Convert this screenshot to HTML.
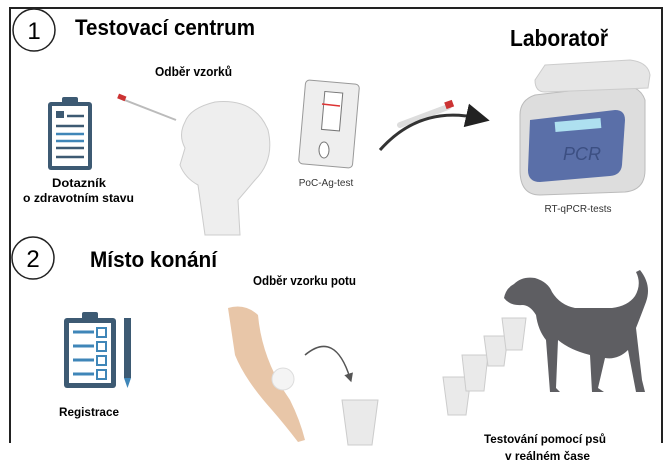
<!DOCTYPE html><html><head><meta charset="utf-8"><style>
body{margin:0;background:#fff;width:670px;height:476px;overflow:hidden}
svg{display:block}
text{font-family:"Liberation Sans",sans-serif}
.b{font-weight:bold}
</style></head><body>
<svg width="670" height="476" viewBox="0 0 670 476">
<defs><marker id="ah" markerWidth="8" markerHeight="8" refX="4" refY="4" orient="auto"><path d="M0,0L8,4L0,8z" fill="#222"/></marker>
<marker id="ah2" markerWidth="6" markerHeight="6" refX="3" refY="3" orient="auto"><path d="M0,0L6,3L0,6z" fill="#555"/></marker></defs>
<path d="M10,443V8H662V443" fill="none" stroke="#222" stroke-width="2"/>
<circle cx="34" cy="30" r="21" fill="#fff" stroke="#222" stroke-width="1.5"/>
<text x="34" y="39" font-size="24" text-anchor="middle">1</text>
<text x="75" y="35" font-size="22" class="b" textLength="180" lengthAdjust="spacingAndGlyphs">Testovací centrum</text>
<text x="510" y="46" font-size="23" class="b" textLength="98" lengthAdjust="spacingAndGlyphs">Laboratoř</text>
<text x="155" y="76" font-size="13" class="b" textLength="77" lengthAdjust="spacingAndGlyphs">Odběr vzorků</text>
<rect x="48" y="102" width="44" height="68" rx="3" fill="#3d5a73"/>
<rect x="52" y="106" width="36" height="60" fill="#fff"/>
<rect x="62" y="97" width="16" height="8" rx="2" fill="#3d5a73"/>
<g stroke="#3d5a73" stroke-width="2.5"><line x1="67" y1="116" x2="84" y2="116"/><line x1="56" y1="126" x2="84" y2="126"/><line x1="56" y1="148" x2="84" y2="148"/><line x1="56" y1="157" x2="84" y2="157"/></g>
<line x1="56" y1="134" x2="84" y2="134" stroke="#3f86b8" stroke-width="2.5"/><line x1="56" y1="141" x2="84" y2="141" stroke="#3f86b8" stroke-width="2.5"/>
<rect x="56" y="111" width="8" height="7" fill="#3d5a73"/>
<text x="52" y="187" font-size="12" class="b" textLength="54" lengthAdjust="spacingAndGlyphs">Dotazník</text>
<text x="23" y="202" font-size="12" class="b" textLength="111" lengthAdjust="spacingAndGlyphs">o zdravotním stavu</text>
<line x1="122" y1="99" x2="176" y2="120" stroke="#bbb" stroke-width="2"/>
<rect x="118" y="95" width="8" height="5" fill="#c33" transform="rotate(22 122 97)"/>
<path d="M185,148 Q178,135 185,122 Q190,108 215,102 Q255,98 268,130 Q275,160 255,180 Q245,192 238,200 L240,235 L205,235 L198,185 Q185,178 180,165 Z" fill="#eee" stroke="#ccc"/>
<rect x="302" y="82" width="54" height="84" rx="4" fill="#eee" stroke="#999" transform="rotate(5 329 124)"/>
<rect x="322" y="92" width="18" height="38" fill="#fff" stroke="#777" transform="rotate(5 329 124)"/>
<line x1="322" y1="104" x2="340" y2="106" stroke="#d33" stroke-width="1.5"/>
<ellipse cx="324" cy="150" rx="5" ry="8" fill="#fff" stroke="#777"/>
<text x="326" y="186" font-size="10" text-anchor="middle" fill="#333">PoC-Ag-test</text>
<line x1="400" y1="125" x2="448" y2="107" stroke="#ddd" stroke-width="6" stroke-linecap="round"/>
<rect x="445" y="101" width="8" height="7" fill="#c33" transform="rotate(-20 449 104)"/>
<path d="M380,150 Q420,105 478,118" fill="none" stroke="#333" stroke-width="3" marker-end="url(#ah)"/>
<path d="M520,170 L520,115 Q520,100 535,95 L620,85 Q640,85 645,100 L645,170 Q645,190 625,192 L540,195 Q520,195 520,170Z" fill="#ddd" stroke="#bbb"/>
<path d="M545,65 L630,60 Q648,62 650,75 L648,88 L545,92 Q535,92 535,80 Z" fill="#e6e6e6" stroke="#ccc"/>
<path d="M530,120 L615,110 Q625,110 625,120 L622,165 Q621,175 610,176 L540,182 Q528,182 528,170Z" fill="#5a6fa8"/>
<rect x="555" y="120" width="46" height="10" fill="#aee0f0" transform="rotate(-5 578 125)"/>
<text x="563" y="160" font-size="18" fill="#3c4f82" font-style="italic">PCR</text>
<text x="578" y="212" font-size="10" text-anchor="middle" fill="#333">RT-qPCR-tests</text>
<circle cx="33" cy="258" r="21" fill="#fff" stroke="#222" stroke-width="1.5"/>
<text x="33" y="267" font-size="24" text-anchor="middle">2</text>
<text x="90" y="267" font-size="22" class="b" textLength="127" lengthAdjust="spacingAndGlyphs">Místo konání</text>
<text x="253" y="285" font-size="13" class="b" textLength="103" lengthAdjust="spacingAndGlyphs">Odběr vzorku potu</text>
<rect x="64" y="318" width="52" height="70" rx="3" fill="#3d5a73"/>
<rect x="69" y="323" width="42" height="60" fill="#fff"/>
<rect x="82" y="312" width="16" height="8" rx="2" fill="#3d5a73"/>
<g stroke="#3f86b8" stroke-width="3" fill="none"><line x1="73" y1="332" x2="94" y2="332"/><line x1="73" y1="346" x2="94" y2="346"/><line x1="73" y1="360" x2="94" y2="360"/><line x1="73" y1="374" x2="94" y2="374"/>
<rect x="97" y="328" width="9" height="9" stroke-width="2"/><rect x="97" y="342" width="9" height="9" stroke-width="2"/><rect x="97" y="356" width="9" height="9" stroke-width="2"/><rect x="97" y="370" width="9" height="9" stroke-width="2"/></g>
<rect x="124" y="318" width="7" height="60" fill="#3d5a73"/><path d="M124,378 L131,378 L127.5,388Z" fill="#3f86b8"/>
<text x="59" y="416" font-size="12" class="b" textLength="60" lengthAdjust="spacingAndGlyphs">Registrace</text>
<path d="M228,308 Q245,303 258,315 Q262,360 290,400 Q300,420 305,440 L298,442 Q285,425 272,410 Q245,380 235,355Z" fill="#e8c6a8"/>
<circle cx="283" cy="379" r="11" fill="#f4f4f4" stroke="#ddd"/>
<path d="M305,355 Q335,330 350,378" fill="none" stroke="#555" stroke-width="1.5" marker-end="url(#ah2)"/>
<path d="M342,400 L378,400 L372,445 L348,445Z" fill="#eaeaea" stroke="#ccc"/>
<g fill="#eaeaea" stroke="#ccc">
<path d="M443,377 L471,377 L466,415 L448,415Z"/><path d="M462,355 L488,355 L484,391 L466,391Z"/><path d="M484,336 L508,336 L504,366 L488,366Z"/><path d="M502,318 L526,318 L522,350 L506,350Z"/></g>
<path d="M504,298 Q506,288 514,284 Q522,276 535,278 Q548,282 552,292 Q560,305 575,308 L612,308 Q628,306 635,296 Q642,284 636,272 L640,270 Q652,285 646,302 Q640,318 636,328 L642,380 L645,392 L636,392 L628,350 Q618,360 605,358 L598,388 L604,392 L592,392 L590,355 Q570,350 558,340 L556,388 L560,392 L550,392 L546,340 Q538,330 536,315 Q530,305 522,305 Q510,306 504,298Z" fill="#5e5e62"/>
<text x="484" y="443" font-size="12" class="b" textLength="122" lengthAdjust="spacingAndGlyphs">Testování pomocí psů</text>
<text x="505" y="460" font-size="12" class="b" textLength="85" lengthAdjust="spacingAndGlyphs">v reálném čase</text>
</svg>
</body></html>
